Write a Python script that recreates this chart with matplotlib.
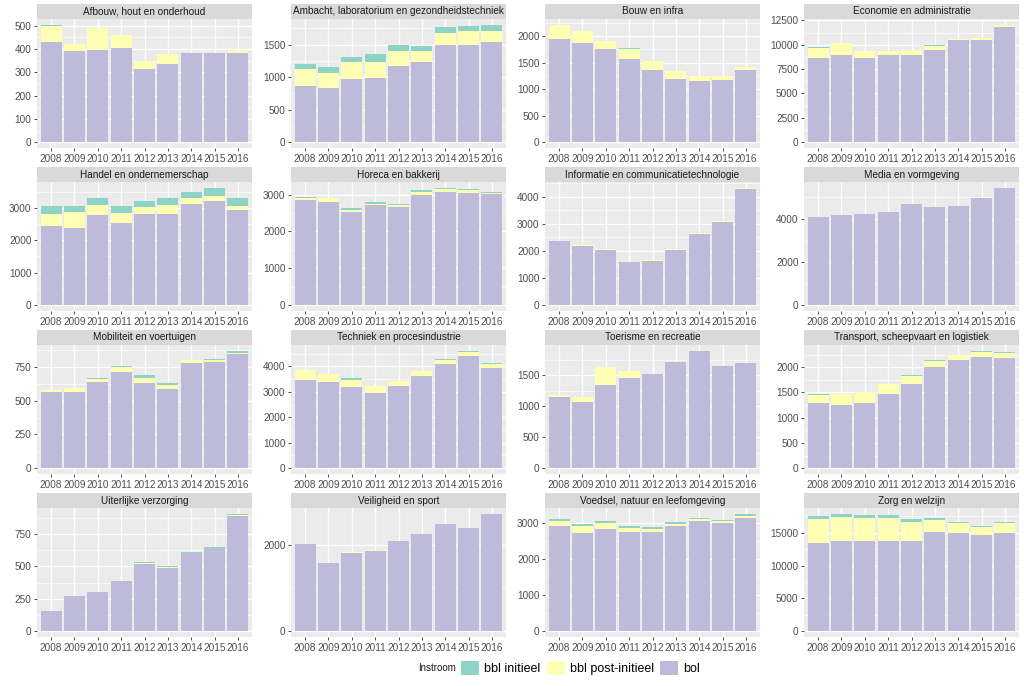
import numpy as np
import matplotlib
matplotlib.use('Agg')
import matplotlib.pyplot as plt
from matplotlib.patches import Patch
from matplotlib.ticker import MultipleLocator

plt.rcParams['font.family'] = ['Liberation Sans', 'DejaVu Sans']

years = ['2008', '2009', '2010', '2011', '2012', '2013', '2014', '2015', '2016']

panels = [
    'Afbouw, hout en onderhoud', 'Ambacht, laboratorium en gezondheidstechniek',
    'Bouw en infra', 'Economie en administratie',
    'Handel en ondernemerschap', 'Horeca en bakkerij',
    'Informatie en communicatietechnologie', 'Media en vormgeving',
    'Mobiliteit en voertuigen', 'Techniek en procesindustrie',
    'Toerisme en recreatie', 'Transport, scheepvaart en logistiek',
    'Uiterlijke verzorging', 'Veiligheid en sport',
    'Voedsel, natuur en leefomgeving', 'Zorg en welzijn',
]

# bol (onderste laag)
bol = [
    [430, 391, 395, 405, 315, 335, 381, 384, 385],
    [865, 830, 975, 985, 1165, 1230, 1500, 1500, 1545],
    [1940, 1873, 1757, 1573, 1371, 1187, 1163, 1181, 1371],
    [8650, 8985, 8650, 8920, 8950, 9420, 10520, 10520, 11860],
    [2450, 2385, 2780, 2540, 2820, 2820, 3130, 3200, 2920],
    [2843, 2800, 2538, 2712, 2677, 3000, 3070, 3043, 3008],
    [2364, 2196, 2052, 1596, 1620, 2040, 2640, 3084, 4284],
    [4110, 4185, 4245, 4305, 4695, 4545, 4605, 4965, 5445],
    [566, 566, 636, 713, 634, 586, 781, 786, 846],
    [3463, 3374, 3195, 2952, 3233, 3630, 4090, 4422, 3949],
    [1140, 1061, 1346, 1452, 1515, 1711, 1890, 1653, 1695],
    [1284, 1258, 1297, 1471, 1664, 2006, 2135, 2206, 2187],
    [155, 270, 300, 385, 520, 490, 600, 640, 885],
    [2010, 1580, 1820, 1870, 2080, 2250, 2480, 2400, 2720],
    [2900, 2700, 2830, 2750, 2750, 2900, 3050, 3000, 3120],
    [13500, 13700, 13700, 13700, 13800, 15200, 15000, 14600, 15000],
]

# bbl post-initieel
post = [
    [70, 30, 96, 57, 34, 42, 1, 1, 6],
    [260, 235, 265, 250, 235, 170, 185, 205, 170],
    [270, 220, 146, 190, 153, 159, 86, 74, 43],
    [1040, 1205, 700, 400, 540, 500, 100, 170, 160],
    [370, 495, 320, 310, 210, 260, 170, 160, 140],
    [69, 95, 52, 35, 43, 70, 70, 87, 35],
    [10, 10, 10, 10, 30, 30, 15, 20, 40],
    [0, 0, 0, 0, 0, 0, 0, 0, 0],
    [15, 27, 27, 41, 38, 33, 19, 19, 7],
    [384, 319, 281, 268, 179, 192, 166, 128, 166],
    [43, 85, 291, 106, 0, 0, 0, 0, 0],
    [174, 213, 212, 200, 168, 116, 103, 84, 96],
    [0, 0, 0, 0, 5, 5, 5, 5, 10],
    [0, 0, 10, 20, 20, 0, 0, 0, 0],
    [150, 200, 150, 100, 80, 70, 50, 30, 70],
    [3600, 3700, 3500, 3500, 2900, 1800, 1500, 1300, 1500],
]

# bbl initieel
init = [
    [4, 0, 0, 0, 0, 0, 0, 0, 0],
    [85, 95, 75, 120, 95, 75, 85, 90, 90],
    [5, 12, 3, 8, 3, 3, 3, 3, 5],
    [40, 10, 10, 10, 10, 60, 10, 10, 30],
    [230, 170, 200, 200, 170, 210, 180, 255, 230],
    [20, 25, 52, 53, 35, 52, 43, 27, 35],
    [3, 3, 3, 3, 5, 5, 3, 5, 10],
    [0, 0, 0, 0, 0, 0, 0, 0, 0],
    [2, 2, 2, 3, 20, 15, 2, 3, 17],
    [10, 10, 89, 10, 28, 18, 20, 64, 20],
    [0, 0, 0, 0, 0, 0, 0, 0, 0],
    [3, 3, 3, 3, 3, 13, 7, 32, 20],
    [0, 0, 0, 0, 5, 5, 5, 5, 10],
    [0, 0, 0, 0, 0, 0, 0, 0, 0],
    [50, 50, 50, 50, 50, 50, 30, 30, 50],
    [500, 500, 500, 500, 400, 200, 200, 200, 100],
]

y_steps = [100, 500, 500, 2500, 1000, 1000, 1000, 2000,
           250, 1000, 500, 500, 250, 2000, 1000, 5000]

kleur_bol = '#BEBADA'
kleur_post = '#FFFFB3'
kleur_init = '#8DD3C7'

W, H = 1024, 686
fig = plt.figure(figsize=(W / 100, H / 100), dpi=100)

col_left = [37, 291, 545, 804]
row_top = [4, 167, 330, 493]
panel_w = 215
strip_h = 15
plot_h = 129

x = np.arange(len(years))

for i, naam in enumerate(panels):
    r, c = divmod(i, 4)
    l = col_left[c]
    t = row_top[r]

    ax = fig.add_axes([l / W, 1 - (t + strip_h + plot_h) / H, panel_w / W, plot_h / H])
    sax = fig.add_axes([l / W, 1 - (t + strip_h) / H, panel_w / W, strip_h / H])

    b = np.array(bol[i])
    p = np.array(post[i])
    n = np.array(init[i])

    ax.bar(x, b, width=0.9, color=kleur_bol, zorder=2)
    ax.bar(x, p, width=0.9, bottom=b, color=kleur_post, zorder=2)
    ax.bar(x, n, width=0.9, bottom=b + p, color=kleur_init, zorder=2)

    ymax = (b + p + n).max()
    ax.set_xlim(-0.6, len(years) - 0.4)
    ax.set_ylim(-0.05 * ymax, 1.05 * ymax)
    ax.set_facecolor('#EBEBEB')
    ax.yaxis.set_major_locator(MultipleLocator(y_steps[i]))
    ax.yaxis.set_minor_locator(MultipleLocator(y_steps[i] / 2))
    ax.set_xticks(x)
    ax.set_xticklabels(years)
    ax.grid(which='major', color='white', linewidth=1.0, zorder=0)
    ax.grid(which='minor', axis='y', color='white', linewidth=0.5, zorder=0)
    ax.set_axisbelow(True)
    for s in ax.spines.values():
        s.set_visible(False)
    ax.tick_params(which='major', length=2.5, width=0.6, color='#333333',
                   labelsize=7.2, labelcolor='#4D4D4D', pad=1.5)
    ax.tick_params(which='minor', length=0)

    sax.set_facecolor('#D9D9D9')
    sax.set_xticks([])
    sax.set_yticks([])
    for s in sax.spines.values():
        s.set_visible(False)
    sax.text(0.5, 0.5, naam, ha='center', va='center', fontsize=7.2, color='#1A1A1A',
             transform=sax.transAxes)

# legenda
fig.text(418 / W, 1 - 668 / H, 'Instroom', fontsize=7, va='center', ha='left', color='#1A1A1A')
handles = [Patch(facecolor=kleur_init), Patch(facecolor=kleur_post), Patch(facecolor=kleur_bol)]
fig.legend(handles, ['bbl initieel', 'bbl post-initieel', 'bol'], ncol=3,
           loc='center left', bbox_to_anchor=(461 / W, 1 - 668 / H), frameon=False,
           fontsize=9, handlelength=1.45, handleheight=1.45, columnspacing=0.5,
           handletextpad=0.4, borderpad=0, borderaxespad=0)

fig.savefig('out.png', dpi=100)
